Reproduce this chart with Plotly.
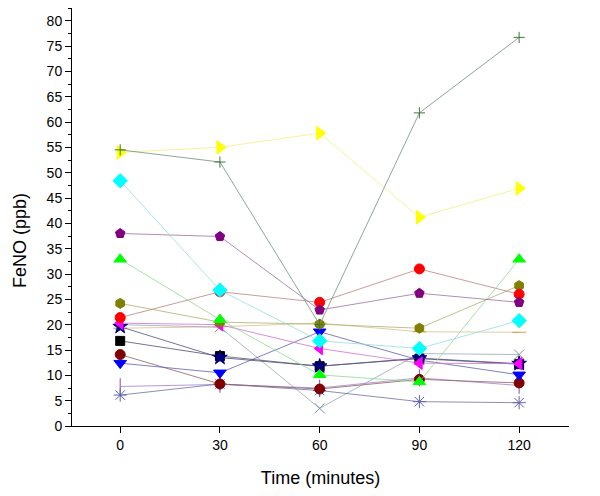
import plotly.graph_objects as go

times = [0, 30, 60, 90, 120]

# FeNO readings per subject (ppb)
feno_plus = [54.5, 52.1, 20.0, 61.8, 76.7]
feno_yellow = [54.0, 55.0, 57.8, 41.2, 46.9]
feno_cyan = [48.4, 26.8, 16.8, 15.3, 20.8]
feno_pentagon = [38.0, 37.4, 22.9, 26.2, 24.4]
feno_green = [32.9, 21.0, 10.1, 8.7, 32.9]
feno_red = [21.4, 26.5, 24.4, 31.0, 26.0]
feno_olive = [24.2, 20.5, 20.1, 19.3, 27.7]
feno_tan = [19.3, 19.6, 20.3, 18.6, 18.5]
feno_magenta = [20.3, 20.0, 15.3, 12.4, 12.3]
feno_x = [20.0, 19.5, 3.5, 14.3, 14.1]
feno_star = [19.6, 13.5, 11.8, 13.4, 12.3]
feno_square = [16.8, 13.8, 11.8, 13.3, 12.2]
feno_blue = [12.4, 10.5, 18.6, 13.0, 10.1]
feno_maroon = [14.1, 8.3, 7.3, 9.2, 8.5]
feno_vbar = [7.8, 8.2, 7.5, 9.5, 8.0]
feno_asterisk = [6.1, 8.3, 7.0, 4.8, 4.6]

# (values, marker symbol, marker colour, line colour, marker size)
series = [
    (feno_tan, "line-ew", "#c8a050", "#d8c090", 10),
    (feno_x, "x-thin", "#7890a8", "#98a8b8", 10),
    (feno_vbar, "line-ns", "#8050c0", "#a080c8", 12),
    (feno_asterisk, "asterisk", "#6060b0", "#7070a8", 11),
    (feno_maroon, "circle", "#800000", "#906060", 10),
    (feno_blue, "triangle-down", "#0000ff", "#6060b0", 11),
    (feno_square, "square", "#000000", "#505070", 9),
    (feno_star, "star", "#000080", "#505080", 11),
    (feno_magenta, "triangle-left", "#ff00ff", "#d070d0", 11),
    (feno_olive, "hexagon", "#808000", "#b0b070", 10),
    (feno_red, "circle", "#ff0000", "#c08080", 10),
    (feno_green, "triangle-up", "#00ff00", "#90d890", 11),
    (feno_pentagon, "pentagon", "#800080", "#a070a0", 10),
    (feno_cyan, "diamond", "#00ffff", "#90e0e0", 11),
    (feno_yellow, "triangle-right", "#ffff00", "#f0f080", 12),
    (feno_plus, "cross-thin", "#3a7a3a", "#70907a", 8),
]

fig = go.Figure()
for vals, sym, mcol, lcol, size in series:
    fig.add_trace(go.Scatter(
        x=times,
        y=vals,
        mode="lines+markers",
        line=dict(color=lcol, width=0.8),
        marker=dict(symbol=sym, size=size, color=mcol,
                    line=dict(color=mcol, width=1)),
        showlegend=False,
    ))

axis_font = dict(family="Liberation Sans, Arial, sans-serif", size=14, color="black")

# y title sits a little below the axis centre in the original, so use an annotation
fig.add_annotation(
    text="FeNO (ppb)",
    textangle=-90,
    xref="paper", x=0, xshift=-52, xanchor="center",
    yref="y", y=36.5, yanchor="middle",
    showarrow=False,
    font=dict(size=18, color="black"),
)

# page body adds an 8px offset, so margins are shifted to compensate
fig.update_layout(
    width=600,
    height=496,
    margin=dict(l=64, r=39, t=0, b=78),
    paper_bgcolor="white",
    plot_bgcolor="white",
    font=axis_font,
    xaxis=dict(
        range=[-14.5, 135],
        tickvals=times,
        ticks="outside",
        ticklen=6,
        tickcolor="black",
        showline=True,
        linecolor="black",
        linewidth=1,
        showgrid=False,
        zeroline=False,
        automargin=False,
        title=dict(text="Time (minutes)", font=dict(size=18), standoff=19),
    ),
    yaxis=dict(
        range=[0, 82.5],
        dtick=5,
        ticks="outside",
        ticklen=6,
        tickcolor="black",
        minor=dict(dtick=2.5, ticks="outside", ticklen=3, tickcolor="black"),
        showline=True,
        linecolor="black",
        linewidth=1,
        showgrid=False,
        zeroline=False,
        automargin=False,
    ),
)

fig.write_html("out.html")
